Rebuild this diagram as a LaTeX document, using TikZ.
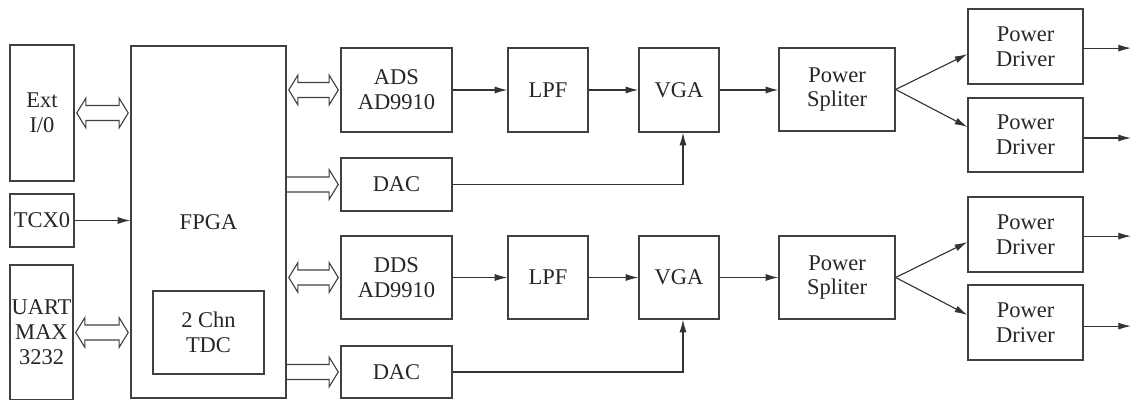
\documentclass[tikz,border=0pt]{standalone}
\usepackage{fontspec}
\setmainfont{Liberation Serif}
\usetikzlibrary{arrows.meta,positioning,calc}

\begin{document}
\begin{tikzpicture}[x=0.025cm, y=-0.025cm,
  every node/.style={font=\fontsize{16}{17.7}\selectfont, text=black!85},
  blk/.style={rectangle, draw=black!75, line width=0.9pt, align=center, inner sep=1pt},
  sig/.style={-{Latex[length=9pt,width=5pt]}, line width=0.8pt, draw=black!80},
  bus/.style={draw=black!75, line width=0.8pt, to path={let \p1=(\tikztostart), \p2=(\tikztotarget) in
    (\x1,\y1+5.3pt) -- (\x2-8pt,\y1+5.3pt) -- (\x2-8pt,\y1+10.6pt) -- (\x2-1.5pt,\y1)
    -- (\x2-8pt,\y1-10.6pt) -- (\x2-8pt,\y1-5.3pt) -- (\x1,\y1-5.3pt)}},
  bbus/.style={draw=black!75, line width=0.8pt, to path={let \p1=(\tikztostart), \p2=(\tikztotarget) in
    (\x1+1.5pt,\y1) -- (\x1+8pt,\y1+10.6pt) -- (\x1+8pt,\y1+5.3pt) -- (\x2-8pt,\y1+5.3pt)
    -- (\x2-8pt,\y1+10.6pt) -- (\x2-1.5pt,\y1) -- (\x2-8pt,\y1-10.6pt) -- (\x2-8pt,\y1-5.3pt)
    -- (\x1+8pt,\y1-5.3pt) -- (\x1+8pt,\y1-10.6pt) -- cycle}}]

\useasboundingbox (0,0) rectangle (1131,400);

% left column
\node[blk, minimum width=1.6cm, minimum height=3.4cm] (ext) at (42,113) {Ext\\I/0};
\node[blk, minimum width=1.6cm, minimum height=1.325cm] (tcxo) at (42,220.5) {TCX0};
\node[blk, minimum width=1.575cm, minimum height=3.375cm, inner sep=0pt] (uart) at (41.5,332.5) {UART\\MAX\\3232};

% FPGA
\node[blk, minimum width=3.875cm, minimum height=8.8cm] (fpga) at (208.5,222) {FPGA};
\node[blk, minimum width=2.775cm, minimum height=2.075cm] (tdc) at (208.5,332.5) {2 Chn\\TDC};

% upper channel
\node[blk, minimum width=2.775cm, minimum height=2.1cm] (ads) at (396.5,90) {ADS\\AD9910};
\node[blk, minimum width=2cm, minimum height=2.1cm] (lpfa) at (548,90) {LPF};
\node[blk, minimum width=2cm, minimum height=2.1cm] (vgaa) at (679,90) {VGA};
\node[blk, minimum width=2.775cm, minimum height=1.325cm] (daca) at (396.5,184.5) {DAC};
\node[blk, minimum width=2.9cm, minimum height=2.075cm] (splita) at (837,89.5) {Power\\Spliter};
\node[blk, minimum width=2.875cm, minimum height=1.875cm] (pd1) at (1025.5,46.5) {Power\\Driver};
\node[blk, minimum width=2.875cm, minimum height=1.85cm] (pd2) at (1025.5,135) {Power\\Driver};

% lower channel
\node[blk, minimum width=2.775cm, minimum height=2.075cm] (dds) at (396.5,277.5) {DDS\\AD9910};
\node[blk, minimum width=2cm, minimum height=2.075cm] (lpfb) at (548,277.5) {LPF};
\node[blk, minimum width=2cm, minimum height=2.075cm] (vgab) at (679,277.5) {VGA};
\node[blk, minimum width=2.775cm, minimum height=1.3cm] (dacb) at (396.5,372) {DAC};
\node[blk, minimum width=2.9cm, minimum height=2.075cm] (splitb) at (837,277.5) {Power\\Spliter};
\node[blk, minimum width=2.875cm, minimum height=1.875cm] (pd3) at (1025.5,234.5) {Power\\Driver};
\node[blk, minimum width=2.875cm, minimum height=1.875cm] (pd4) at (1025.5,322.5) {Power\\Driver};

\coordinate (rim) at (1131,0);

% buses
\draw[bbus] (ext.east) to (ext.east -| fpga.west);
\draw[bbus] (uart.east) to (uart.east -| fpga.west);
\draw[bbus] (fpga.east |- ads.west) to (ads.west);
\draw[bus] (fpga.east |- daca.west) to (daca.west);
\draw[bbus] (fpga.east |- dds.west) to (dds.west);
\draw[bus] (fpga.east |- dacb.west) to (dacb.west);

% signals
\draw[sig] (tcxo.east) -- (tcxo.east -| fpga.west);
\draw[sig] (ads) -- (lpfa);
\draw[sig] (lpfa) -- (vgaa);
\draw[sig] (vgaa.east) -- (vgaa.east -| splita.west);
\draw[sig] (daca.east) -| ([xshift=0.1cm]vgaa.south);
\draw[sig] (splita.east) -- ([yshift=-0.19cm]pd1.west);
\draw[sig] (splita.east) -- ([yshift=0.2cm]pd2.west);
\draw[sig] (dds) -- (lpfb);
\draw[sig] (lpfb) -- (vgab);
\draw[sig] (vgab.east) -- (vgab.east -| splitb.west);
\draw[sig] (dacb.east) -| ([xshift=0.1cm]vgab.south);
\draw[sig] (splitb.east) -- ([yshift=-0.19cm]pd3.west);
\draw[sig] (splitb.east) -- ([yshift=0.19cm]pd4.west);
\draw[sig] ([yshift=-0.04cm]pd1.east) -- ([yshift=-0.04cm]pd1.east -| rim);
\draw[sig] ([yshift=-0.075cm]pd2.east) -- ([yshift=-0.075cm]pd2.east -| rim);
\draw[sig] ([yshift=-0.04cm]pd3.east) -- ([yshift=-0.04cm]pd3.east -| rim);
\draw[sig] ([yshift=-0.09cm]pd4.east) -- ([yshift=-0.09cm]pd4.east -| rim);

\end{tikzpicture}
\end{document}
